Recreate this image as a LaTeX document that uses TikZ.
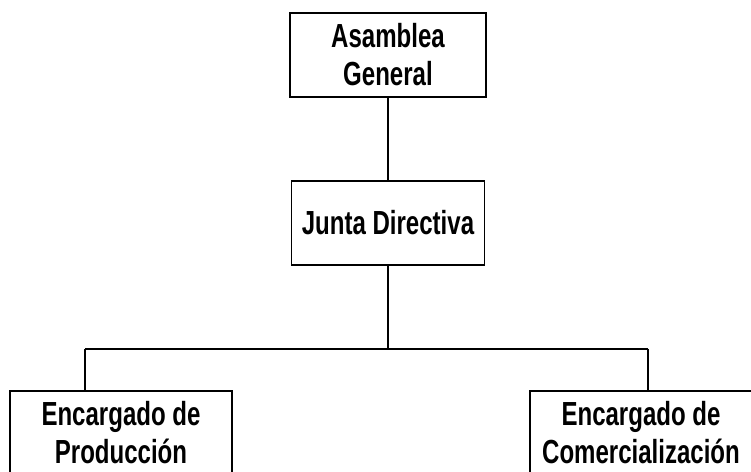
\documentclass[tikz,border=0pt]{standalone}
\usepackage{fontspec}
\setmainfont{Liberation Sans}[FakeStretch=0.72]
\begin{document}
\begin{tikzpicture}[x=0.02cm, y=-0.02cm, line width=1.1pt,
  caja/.style={draw, align=center, inner sep=0pt, minimum height=1.68cm,
    font={\bfseries\fontsize{19}{21.6}\selectfont}}]
\useasboundingbox (0,0) rectangle (751,472);
\node[caja, minimum width=3.92cm] at (388, 55) (asamblea) {Asamblea\\General};
\node[caja, minimum width=3.86cm] at (388, 223) (junta) {Junta Directiva};
\node[caja, minimum width=4.44cm] at (121, 433) (produccion) {Encargado de\\Producción};
\node[caja, minimum width=4.44cm] at (641, 433) (comercial) {Encargado de\\Comercialización};
\coordinate (rama) at (388, 349);
\coordinate (rama izq) at (85, 349);
\coordinate (rama der) at (648, 349);
\draw (asamblea) -- (junta);
\draw (junta) -- (rama);
\draw (rama izq) -- (rama der);
\draw (rama izq) -- (rama izq |- produccion.north);
\draw (rama der) -- (rama der |- comercial.north);
\end{tikzpicture}
\end{document}
